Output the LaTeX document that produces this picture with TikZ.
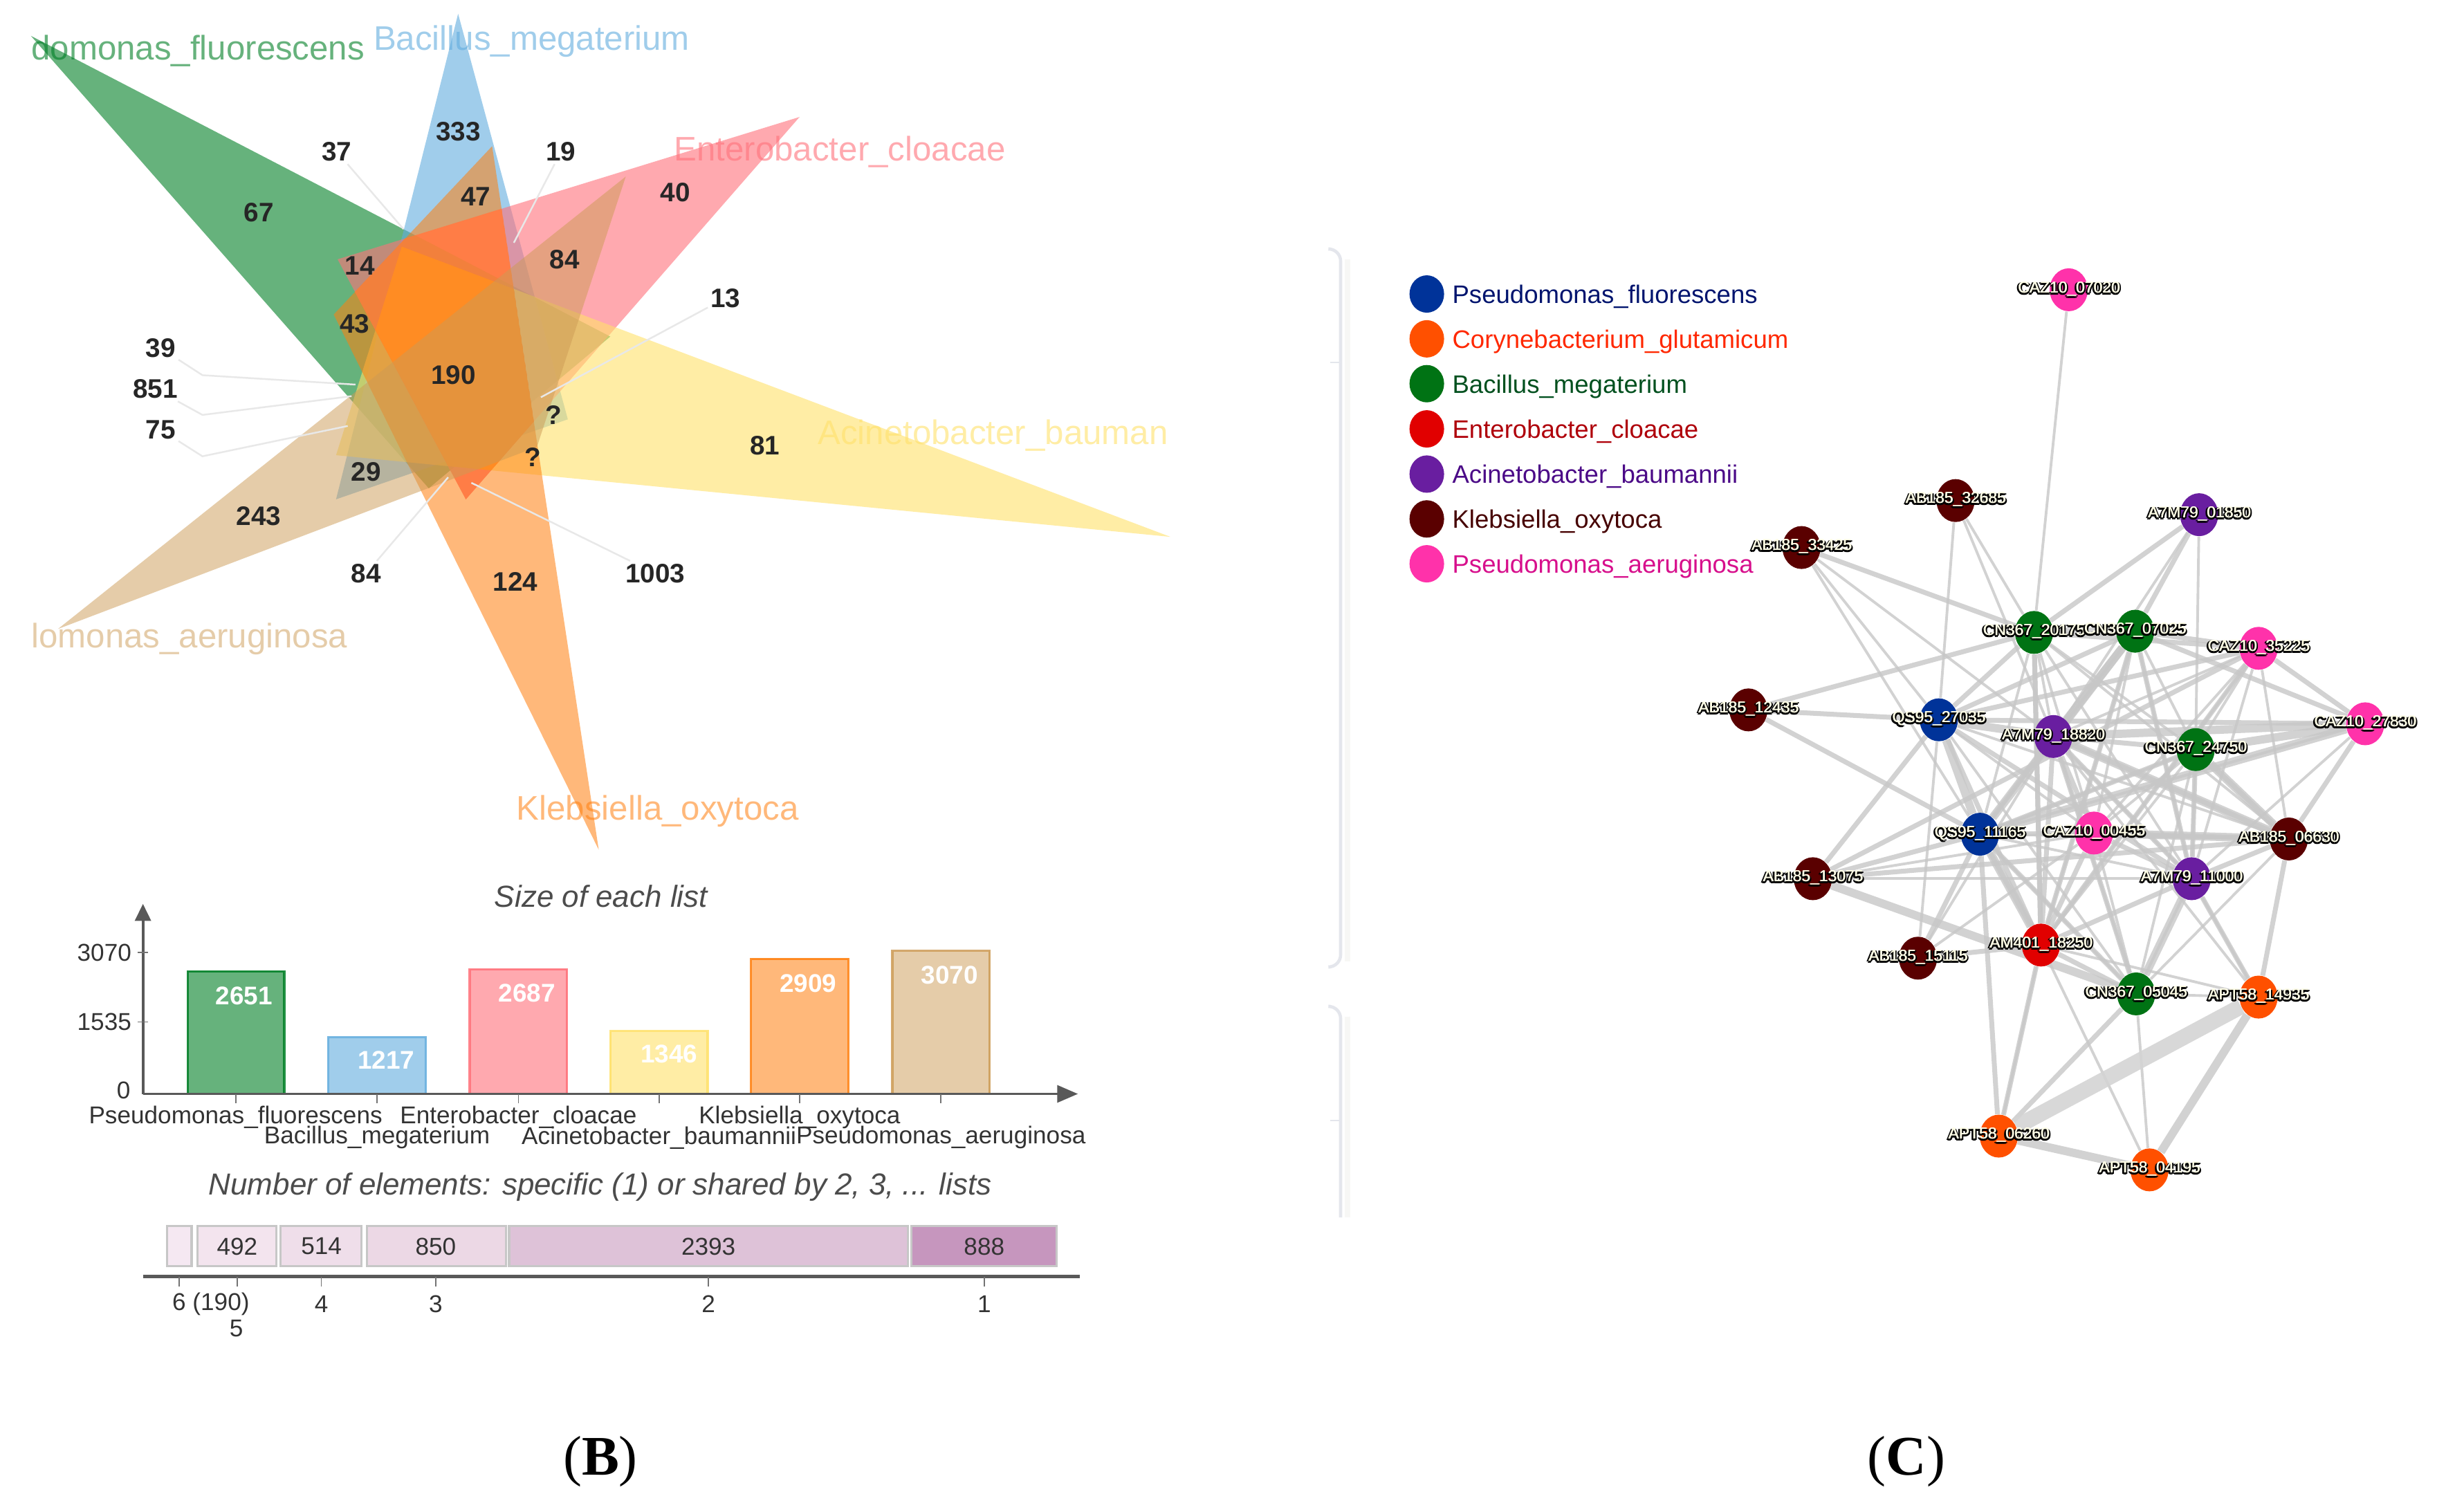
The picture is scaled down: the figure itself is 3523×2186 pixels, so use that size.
\documentclass[tikz,border=0pt]{standalone}
\usepackage{fontspec}
\setmainfont{Liberation Sans}
\newfontfamily\capfont{Liberation Serif}
\usetikzlibrary{arrows.meta,shapes.geometric,backgrounds}
\definecolor{cgreen}{RGB}{0,127,38}
\definecolor{cblue}{RGB}{97,172,222}
\definecolor{cpink}{RGB}{255,113,122}
\definecolor{cyel}{RGB}{255,225,105}
\definecolor{corg}{RGB}{255,127,14}
\definecolor{ctan}{RGB}{205,155,85}
\definecolor{mixa}{RGB}{255,125,70}
\definecolor{mixb}{RGB}{242,128,60}
\definecolor{mixc}{RGB}{255,140,35}
\definecolor{nblue}{RGB}{0,51,153}
\definecolor{norg}{RGB}{255,80,0}
\definecolor{ngreen}{RGB}{0,115,20}
\definecolor{nred}{RGB}{225,0,0}
\definecolor{npur}{RGB}{105,30,160}
\definecolor{nmar}{RGB}{90,0,0}
\definecolor{npink}{RGB}{255,50,170}
\newcommand{\halotext}[1]{\leavevmode
  \rlap{\kern-.75pt\raisebox{-.4pt}{\color{black}#1}}%
  \rlap{\kern.75pt\raisebox{-.4pt}{\color{black}#1}}%
  \rlap{\kern.3pt\raisebox{-.85pt}{\color{black}#1}}%
  \rlap{\kern-.3pt\raisebox{-.85pt}{\color{black}#1}}%
  \rlap{\kern.2pt{\color{white!90!yellow}#1}}%
  {\color{white!90!yellow}#1}}
\newcommand{\triG}{(40,65) -- (790,610) -- (555,885) -- cycle}
\newcommand{\triB}{(593,25) -- (735,760) -- (435,905) -- cycle}
\newcommand{\triP}{(1035,212) -- (437,470) -- (603,905) -- cycle}
\newcommand{\triY}{(1515,973) -- (520,447) -- (435,825) -- cycle}
\newcommand{\triO}{(775,1540) -- (637,265) -- (432,570) -- cycle}
\newcommand{\triT}{(75,1140) -- (810,320) -- (695,810) -- cycle}
\tikzset{
  num/.style={font=\fontsize{11}{13}\selectfont\bfseries,inner sep=1pt,text=black!85},
  setname/.style={font=\fontsize{14}{16}\selectfont,inner sep=0pt,anchor=west,yshift=-.6pt},
  leader/.style={draw=black!9,line width=.7pt},
  axis/.style={draw=black!65,line width=1.1pt},
  tick/.style={draw=black!55,line width=.5pt},
  barbox/.style={line width=.9pt},
  barval/.style={font=\fontsize{10.5}{12}\selectfont\bfseries,text=white,inner sep=0pt},
  axlab/.style={font=\fontsize{10}{12}\selectfont,text=black!80,inner sep=0pt},
  chartitle/.style={font=\fontsize{12.5}{14}\selectfont\itshape,text=black!70,inner sep=0pt},
  seg/.style={draw=black!22,line width=.9pt},
  capt/.style={font=\capfont\fontsize{23}{26}\selectfont,inner sep=0pt},
  panel/.style={draw={rgb,255:red,228;green,230;blue,236},line width=1.3pt},
  panelb/.style={draw={rgb,255:red,247;green,247;blue,245},line width=2.5pt},
  legdot/.style={ellipse,minimum width=.5cm,minimum height=.54cm,inner sep=0pt},
  legtext/.style={font=\fontsize{10.4}{12}\selectfont,inner sep=0pt,anchor=west,yshift=-.4pt},
  gnode/.style={ellipse,minimum width=.55cm,minimum height=.62cm,inner sep=0pt,fill=#1},
  e1/.style={draw=black!22,opacity=.8,line width=1.1pt},
  e2/.style={draw=black!22,opacity=.8,line width=2pt},
  e3/.style={draw=black!22,opacity=.8,line width=3.4pt},
  e4/.style={draw=black!17,opacity=.9,line width=6.5pt},
}
\newcommand{\gl}[1]{{\fontsize{6.5}{7}\selectfont\halotext{#1}}}
\begin{document}
\begin{tikzpicture}[x=.01cm,y=-.01cm]
\useasboundingbox (0,0) rectangle (3523,2186);
% ---------- Venn
\begin{scope}[xscale=1.1168,yscale=.7977]
 \fill[cgreen,fill opacity=.6] \triG;
 \fill[cblue,fill opacity=.6] \triB;
 \fill[cpink,fill opacity=.6] \triP;
 \fill[cyel,fill opacity=.6] \triY;
 \fill[corg,fill opacity=.55] \triO;
 \begin{scope}
  \clip \triP; \clip \triO;
  \fill[mixa] \triO;
  \begin{scope}
   \clip \triG;
   \fill[mixb] \triO;
  \end{scope}
  \clip \triY;
  \fill[mixc] \triO;
 \end{scope}
 \fill[ctan,fill opacity=.5] \triT;
 \node[setname,text=cgreen,text opacity=.6] (sn1) at (40,90) {domonas\_fluorescens};
 \node[setname,text=cblue,text opacity=.6] (sn2) at (483,72) {Bacillus\_megaterium};
 \node[setname,text=cpink,text opacity=.6] (sn3) at (872,273) {Enterobacter\_cloacae};
 \node[setname,text=cyel,text opacity=.6] (sn4) at (1058,787) {Acinetobacter\_bauman};
 \node[setname,text=ctan,text opacity=.5] (sn5) at (40,1155) {lomonas\_aeruginosa};
 \node[setname,text=corg,text opacity=.55] (sn6) at (668,1467) {Klebsiella\_oxytoca};
 \node[num] (v67) at (335,385) {67};
 \node[num] (v333) at (593,238) {333};
 \node[num] (v37) at (436,275) {37};
 \node[num] (v19) at (726,275) {19};
 \node[num] (v40) at (874,349) {40};
 \node[num] (v47) at (616,356) {47};
 \node[num] (v14) at (466,482) {14};
 \node[num] (v84a) at (731,470) {84};
 \node[num] (v13) at (939,540) {13};
 \node[num] (v43) at (459,587) {43};
 \node[num] (v39) at (208,631) {39};
 \node[num] (v851) at (201,705) {851};
 \node[num] (v75) at (208,779) {75};
 \node[num] (v190) at (587,680) {190};
 \node[num] (vq1) at (717,752) {?};
 \node[num] (vq2) at (690,829) {?};
 \node[num] (v81) at (990,808) {81};
 \node[num] (v29) at (474,855) {29};
 \node[num] (v243) at (335,936) {243};
 \node[num] (v84b) at (474,1039) {84};
 \node[num] (v124) at (667,1054) {124};
 \node[num] (v1003) at (848,1039) {1003};
 \coordinate (p37) at (522,415);
 \coordinate (p19) at (665,440);
 \coordinate (p13) at (700,720);
 \coordinate (m39) at (262,680); \coordinate (p39) at (460,697);
 \coordinate (m851) at (262,752); \coordinate (p851) at (455,718);
 \coordinate (m75) at (262,827); \coordinate (p75) at (450,772);
 \coordinate (p84) at (580,865);
 \coordinate (p1003) at (610,875);
 \draw[leader] (v37) -- (p37);
 \draw[leader] (v19) -- (p19);
 \draw[leader] (v13) -- (p13);
 \draw[leader] (v39) -- (m39) -- (p39);
 \draw[leader] (v851) -- (m851) -- (p851);
 \draw[leader] (v75) -- (m75) -- (p75);
 \draw[leader] (v84b) -- (p84);
 \draw[leader] (v1003) -- (p1003);
\end{scope}
% ---------- Bars
\begin{scope}[shift={(0,1250)},xscale=1.1168,yscale=.5973]
 \node[chartitle] (t1) at (778,77) {Size of each list};
 \foreach \xa/\xb/\top/\c/\o in {243/368/258/cgreen/.6,425/551/418/cblue/.6,608/734/253/cpink/.6,790/916/403/cyel/.6,972/1098/228/corg/.55,1155/1281/209/ctan/.5}
   \draw[barbox,draw=\c,fill=\c,fill opacity=\o,draw opacity=.85] (\xa,555) rectangle (\xb,\top);
 \coordinate (o) at (185,555);
 \coordinate (yt) at (185,95);
 \coordinate (xt) at (1395,555);
 \draw[axis,-{Triangle[length=7pt,width=6.5pt]}] (o) -- (yt);
 \draw[axis,-{Triangle[length=8.5pt,width=7pt]}] (o) -- (xt);
 \foreach \x in {305,488,671,853,1035,1218} \draw[tick] (\x,555) -- (\x,578);
 \foreach \y in {213,381} \draw[tick] (178,\y) -- (192,\y);
 \node[barval] (b1) at (316,317) {2651};
 \node[barval] (b2) at (500,473) {1217};
 \node[barval] (b3) at (682,311) {2687};
 \node[barval] (b4) at (866,459) {1346};
 \node[barval] (b5) at (1046,287) {2909};
 \node[barval] (b6) at (1229,267) {3070};
 \node[axlab] (y1) at (135,213) {3070};
 \node[axlab] (y2) at (135,381) {1535};
 \node[axlab] (y3) at (160,547) {0};
 \node[axlab] (x1) at (305,612) {Pseudomonas\_fluorescens};
 \node[axlab] (x3) at (671,612) {Enterobacter\_cloacae};
 \node[axlab] (x5) at (1035,612) {Klebsiella\_oxytoca};
 \node[axlab] (x2) at (488,661) {Bacillus\_megaterium};
 \node[axlab] (x4) at (853,661) {Acinetobacter\_baumannii};
 \node[axlab] (x6) at (1218,661) {Pseudomonas\_aeruginosa};
 \node[chartitle] (t2) at (777,780) {Number of elements: specific (1) or shared by 2, 3, ... lists};
 \draw[seg,fill={rgb,255:red,245;green,232;blue,242}] (216,875) rectangle (248,972);
 \draw[seg,fill={rgb,255:red,243;green,228;blue,238}] (256,875) rectangle (358,972);
 \draw[seg,fill={rgb,255:red,239;green,222;blue,234}] (363,875) rectangle (468,972);
 \draw[seg,fill={rgb,255:red,236;green,216;blue,229}] (475,875) rectangle (655,972);
 \draw[seg,fill={rgb,255:red,222;green,194;blue,216}] (659,875) rectangle (1175,972);
 \draw[seg,fill={rgb,255:red,198;green,150;blue,190}] (1180,875) rectangle (1368,972);
 \node[axlab] (s1) at (307,924) {492};
 \node[axlab] (s2) at (416,924) {514};
 \node[axlab] (s3) at (564,924) {850};
 \node[axlab] (s4) at (917,924) {2393};
 \node[axlab] (s5) at (1274,924) {888};
 \coordinate (a0) at (185,997);
 \coordinate (a1) at (1397,997);
 \draw[axis,line width=1.5pt] (a0) -- (a1);
 \foreach \x in {232,307,416,564,917,1274} \draw[tick] (\x,997) -- (\x,1022);
 \node[axlab] (k6) at (273,1063) {6 (190)};
 \node[axlab] (k4) at (416,1063) {4};
 \node[axlab] (k3) at (564,1063) {3};
 \node[axlab] (k2) at (917,1063) {2};
 \node[axlab] (k1) at (1274,1063) {1};
 \node[axlab] (k5) at (306,1122) {5};
\end{scope}
\node[capt] (capB) at (868,2113) {(\textbf{B})};
\node[capt] (capC) at (2756,2113) {(\textbf{C})};
% ---------- panel edges
\draw[panelb] (1948,375) -- (1948,1390);
\draw[panelb] (1948,1470) -- (1948,1760);
\draw[panel,rounded corners=5pt] (1923,360) -- (1938,360) -- (1938,1398) -- (1923,1398);
\draw[panel,rounded corners=5pt] (1923,1455) -- (1938,1455) -- (1938,1760);
\draw[panel,line width=.8pt] (1923,524) -- (1938,524);
\draw[panel,line width=.8pt] (1923,1620) -- (1938,1620);
% ---------- legend
\begin{scope}[shift={(1900,300)},xscale=1.0357,yscale=.5105]
 \foreach \i/\y/\c/\tc/\t in {1/245/nblue/{rgb,255:red,0;green,20;blue,110}/Pseudomonas\_fluorescens,
   2/372/norg/{rgb,255:red,255;green,40;blue,0}/Corynebacterium\_glutamicum,
   3/499/ngreen/{rgb,255:red,0;green,80;blue,30}/Bacillus\_megaterium,
   4/627/nred/{rgb,255:red,175;green,0;blue,10}/Enterobacter\_cloacae,
   5/755/npur/{rgb,255:red,75;green,10;blue,135}/Acinetobacter\_baumannii,
   6/882/nmar/{rgb,255:red,70;green,0;blue,0}/Klebsiella\_oxytoca,
   7/1009/npink/{rgb,255:red,215;green,15;blue,140}/Pseudomonas\_aeruginosa}
 {
   \node[legdot,fill=\c] (ld\i) at (157,\y) {};
   \node[legtext,text=\tc] (lt\i) at (192,\y+5) {\t};
 }
\end{scope}
% ---------- network
\begin{scope}[shift={(1900,300)},xscale=1.0357,yscale=.5105]
 \node[gnode=npink,label={center:\gl{CAZ10\_07020}}] (cz07) at (1053,233) {};
 \node[gnode=nmar,label={center:\gl{AB185\_32685}}] (ab32) at (895,830) {};
 \node[gnode=npur,label={center:\gl{A7M79\_01850}}] (a701) at (1235,870) {};
 \node[gnode=nmar,label={center:\gl{AB185\_33425}}] (ab33) at (680,963) {};
\end{scope}
\begin{scope}[shift={(2400,900)},xscale=.7167,yscale=.5743]
 \node[gnode=ngreen,label={center:\gl{CN367\_20175}}] (cn20) at (754,25) {};
 \node[gnode=ngreen,label={center:\gl{CN367\_07025}}] (cn07) at (958,22) {};
 \node[gnode=npink,label={center:\gl{CAZ10\_35225}}] (cz35) at (1207,65) {};
 \node[gnode=nmar,label={center:\gl{AB185\_12435}}] (ab12) at (178,220) {};
 \node[gnode=nblue,label={center:\gl{QS95\_27035}}] (qs27) at (562,245) {};
 \node[gnode=npur,label={center:\gl{A7M79\_18820}}] (a718) at (793,287) {};
 \node[gnode=ngreen,label={center:\gl{CN367\_24750}}] (cn24) at (1080,320) {};
 \node[gnode=npink,label={center:\gl{CAZ10\_27830}}] (cz27) at (1422,255) {};
 \node[gnode=nblue,label={center:\gl{QS95\_11165}}] (qs11) at (645,533) {};
 \node[gnode=npink,label={center:\gl{CAZ10\_00455}}] (cz00) at (875,530) {};
 \node[gnode=nmar,label={center:\gl{AB185\_06630}}] (ab06) at (1268,545) {};
 \node[gnode=npur,label={center:\gl{A7M79\_11000}}] (a711) at (1072,645) {};
 \node[gnode=nmar,label={center:\gl{AB185\_13075}}] (ab13) at (308,645) {};
 \node[gnode=nmar,label={center:\gl{AB185\_15115}}] (ab15) at (520,845) {};
 \node[gnode=nred,label={center:\gl{AM401\_18250}}] (am40) at (768,812) {};
 \node[gnode=ngreen,label={center:\gl{CN367\_05045}}] (cn05) at (960,935) {};
 \node[gnode=norg,label={center:\gl{APT58\_14935}}] (ap14) at (1207,943) {};
 \node[gnode=norg,label={center:\gl{APT58\_06260}}] (ap06) at (683,1293) {};
 \node[gnode=norg,label={center:\gl{APT58\_04195}}] (ap04) at (987,1378) {};
\end{scope}
\begin{pgfonlayer}{background}
 \fill[white] (0,0) rectangle (3523,2186);
 \foreach \a/\b in {cz07/cn20,ab32/qs27,ab32/cn20,ab32/a718,ab33/qs27,ab33/a718,ab33/qs11,
   a701/cn24,a701/a718,cn20/a718,cn20/cn24,cn20/qs11,cn20/ab06,cn07/cn24,cn07/a711,cn07/am40,
   cz35/cn24,cz35/a718,cz35/a711,cz35/ab06,cz27/a711,cz27/qs11,qs27/ab15,qs27/ab06,qs27/cz00,
   a718/ab15,a718/a711,a718/cn05,cz00/ab15,cz00/ab13,cz00/cn05,cz00/cn24,cn24/a711,cn24/qs11,cn24/am40,
   ab06/qs11,ab06/cn05,a711/cn05,a711/ap14,am40/ap04,am40/ap06,cn05/ap04,cn05/ap14,am40/ap14,qs11/cn05,a711/qs11,
   ab13/a711,cz35/am40,cn07/qs11,cn20/cz00,cn07/cz00,qs27/cn05,cn24/cn05,cz35/cz00,ab06/cz00,cn20/a711,a718/ap14}
   \draw[e1] (\a) -- (\b);
 \foreach \a/\b in {ab33/cn20,a701/cn20,a701/cn07,ab12/cn20,ab12/qs27,ab12/qs11,qs27/cn20,qs27/cn07,qs27/ab13,qs27/am40,
   cz35/cn20,cz35/cn07,cz35/qs27,cz27/cn07,cz27/ab06,cz27/qs27,cz27/cz35,ab13/qs11,ab15/qs11,qs11/a718,
   qs11/cz00,qs11/am40,a718/am40,a718/cz00,a718/cn24,cz00/am40,cz00/a711,cz00/ab06,cn24/ab06,ab06/a718,am40/cn20,am40/cn07,
   a711/ab06,a711/am40,a711/cn24,ap14/ab06,ap14/a711,ap06/cn05,ap06/qs11,ap06/am40,am40/cn05,ab15/am40,qs27/a711,ab13/cz35,ab13/ab06,
   cn20/am40,qs11/cn24,cn07/a711,cz35/am40,a718/cn05,qs11/cn05,a718/a711}
   \draw[e2] (\a) -- (\b);
 \foreach \a/\b in {qs27/a718,qs27/qs11,a718/cz27,cn24/cz27,cn07/a718,cn07/cn20,cn07/qs11,ab13/cn05,a711/cn05,ab06/cn24,ap14/ap04,ap06/ap04,qs11/cz27,qs11/am40,a718/ab06,cz00/ab06}
   \draw[e3] (\a) -- (\b);
 \draw[e4] (ap14) -- (ap06);
\end{pgfonlayer}
\end{tikzpicture}
\end{document}
